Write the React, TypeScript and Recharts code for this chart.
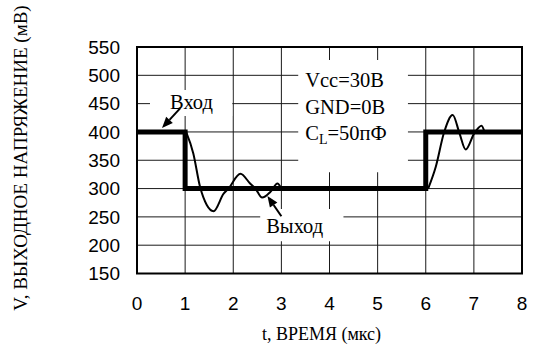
import React from 'react';
import { LineChart, Line, XAxis, YAxis, CartesianGrid, ReferenceArea, ReferenceLine } from 'recharts';

// step input (Вход)
const inputT = [0, 1, 1, 6, 6, 8];
const inputV = [400, 400, 300, 300, 400, 400];

// ringing on the falling edge (Выход)
const fallT = [1.02, 1.17, 1.31, 1.45, 1.59, 1.8, 1.9, 2.15, 2.35, 2.46, 2.6, 2.77, 2.92, 2.98];
const fallV = [400, 362, 303, 271, 260, 291, 300, 326, 309, 300, 284, 294, 309, 303];

// ringing on the rising edge
const riseT = [6.05, 6.21, 6.38, 6.56, 6.7, 6.83, 7.01, 7.16, 7.22];
const riseV = [300, 339, 399, 430, 398, 369, 398, 411, 400];

const xTicks = [0, 1, 2, 3, 4, 5, 6, 7, 8];
const yTicks = [150, 200, 250, 300, 350, 400, 450, 500, 550];

const inputData = inputT.map((t, i) => ({ t, v: inputV[i] }));
const fallData = fallT.map((t, i) => ({ t, v: fallV[i] }));
const riseData = riseT.map((t, i) => ({ t, v: riseV[i] }));

const SERIF = '"Liberation Serif", "Times New Roman", serif';
const SANS = '"Liberation Sans", Arial, sans-serif';

function BoxText(props: any) {
    const { viewBox, lines, dx, dy, gap } = props;
    if (!viewBox) return null;
    return (
        <g>
            {lines.map((ln: any, i: number) => (
                <text key={i} x={viewBox.x + dx} y={viewBox.y + dy + i * gap} fontFamily={SERIF} fontSize={20.5} fill="#000">
                    {ln}
                </text>
            ))}
        </g>
    );
}

function Arrow(props: any) {
    const { x1, y1, x2, y2 } = props;
    if (x1 == null) return null;
    const ang = Math.atan2(y2 - y1, x2 - x1);
    const len = 11;
    const half = 4.5;
    const bx = x2 - len * Math.cos(ang);
    const by = y2 - len * Math.sin(ang);
    const px = -Math.sin(ang) * half;
    const py = Math.cos(ang) * half;
    return (
        <g>
            <line x1={x1} y1={y1} x2={bx} y2={by} stroke="#000" strokeWidth={2} />
            <polygon points={`${x2},${y2} ${bx + px},${by + py} ${bx - px},${by - py}`} fill="#000" />
        </g>
    );
}

export default function App() {
    return (
        <div style={{ position: 'absolute', left: 0, top: 0, width: 535, height: 352, background: '#fff' }}>
            <LineChart width={535} height={352} margin={{ top: 47, right: 13, bottom: 0, left: 0 }}>
                <CartesianGrid stroke="#1a1a1a" strokeWidth={1} />
                <XAxis
                    type="number"
                    dataKey="t"
                    domain={[0, 8]}
                    ticks={xTicks}
                    allowDataOverflow
                    height={78.5}
                    axisLine={false}
                    tickLine={false}
                    tickSize={0}
                    tickMargin={23}
                    tick={{ fontFamily: SANS, fontSize: 19, fill: '#000' }}
                    label={() => (
                        <text x={321.5} y={340} textAnchor="middle" fontFamily={SERIF} fontSize={18} fill="#000">
                            t, ВРЕМЯ (мкс)
                        </text>
                    )}
                />
                <YAxis
                    type="number"
                    dataKey="v"
                    domain={[150, 550]}
                    ticks={yTicks}
                    allowDataOverflow
                    width={137}
                    axisLine={false}
                    tickLine={false}
                    tickSize={0}
                    tickMargin={17}
                    tick={{ fontFamily: SANS, fontSize: 19, fill: '#000' }}
                    label={() => (
                        <text
                            x={0}
                            y={0}
                            transform="translate(20,158) rotate(-90)"
                            textAnchor="middle"
                            dominantBaseline="central"
                            fontFamily={SERIF}
                            fontSize={19}
                            fill="#000"
                        >
                            V, ВЫХОДНОЕ НАПРЯЖЕНИЕ (мВ)
                        </text>
                    )}
                />
                <ReferenceArea x1={0.27} x2={1.98} y1={428} y2={474} fill="#fff" fillOpacity={1} stroke="none"
                    label={<BoxText lines={['Вход']} dx={20} dy={19} gap={0} />} />
                <ReferenceArea x1={2.56} x2={4.29} y1={207} y2={264} fill="#fff" fillOpacity={1} stroke="none"
                    label={<BoxText lines={['Выход']} dx={6} dy={24.5} gap={0} />} />
                <ReferenceArea x1={3.35} x2={5.63} y1={329} y2={527} fill="#fff" fillOpacity={1} stroke="none"
                    label={
                        <BoxText
                            lines={[
                                'Vcc=30В',
                                'GND=0В',
                                <>C<tspan fontSize={14} dy={4}>L</tspan><tspan dy={-4}>=50пФ</tspan></>,
                            ]}
                            dx={7}
                            dy={27}
                            gap={26.5}
                        />
                    }
                />
                <ReferenceArea x1={0} x2={8} y1={150} y2={550} fill="none" stroke="#000" strokeWidth={2} />
                <Line data={inputData} dataKey="v" type="linear" stroke="#000" strokeWidth={5} dot={false}
                    strokeLinejoin="miter" isAnimationActive={false} />
                <Line data={fallData} dataKey="v" type="monotone" stroke="#000" strokeWidth={2} dot={false}
                    isAnimationActive={false} />
                <Line data={riseData} dataKey="v" type="monotone" stroke="#000" strokeWidth={2} dot={false}
                    isAnimationActive={false} />
                <ReferenceLine segment={[{ x: 0.9, y: 442 }, { x: 0.52, y: 407 }]} shape={<Arrow />} />
                <ReferenceLine segment={[{ x: 3.0, y: 251 }, { x: 2.71, y: 287 }]} shape={<Arrow />} />
            </LineChart>
        </div>
    );
}
